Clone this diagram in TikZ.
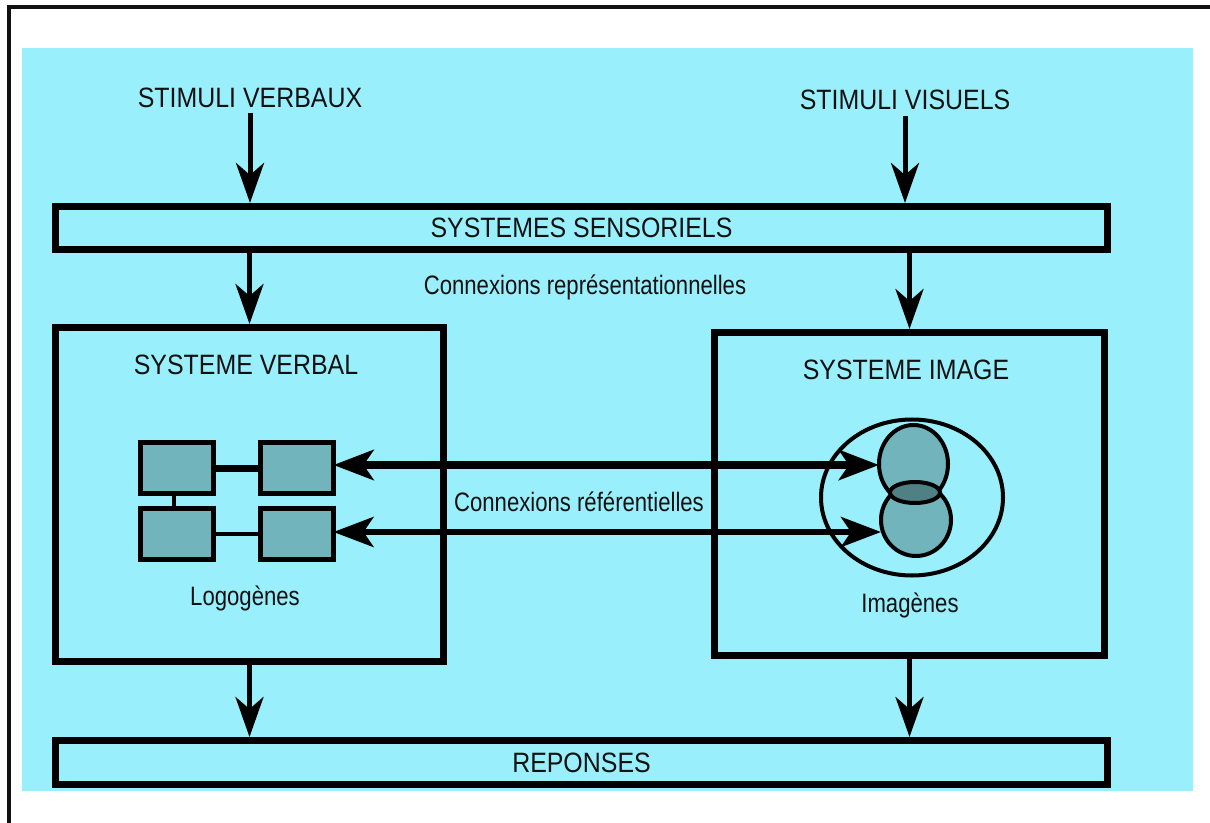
\documentclass[tikz,border=0pt]{standalone}
\usepackage{fontspec}
\setmainfont{Liberation Sans}
\newfontfamily\capsfont[FakeStretch=0.89]{Liberation Sans}
\newfontfamily\smallfont[FakeStretch=0.83]{Liberation Sans}
\usetikzlibrary{arrows.meta,shapes.geometric}
\definecolor{panel}{HTML}{99F0FC}
\definecolor{cellfill}{HTML}{72B4BC}
\definecolor{overlapfill}{HTML}{4F8084}
\definecolor{ink}{HTML}{111111}

\begin{document}
\begin{tikzpicture}[x=0.75pt,y=-0.75pt,
  caps/.style={font=\capsfont\fontsize{21}{25}\selectfont, text=ink, inner sep=0pt},
  small/.style={font=\smallfont\fontsize{20}{24}\selectfont, text=ink, inner sep=0pt},
  sysbox/.style={draw=black, line width=5.25pt, fill=panel, inner sep=0pt, outer sep=2.625pt},
  cell/.style={draw=black, line width=3.75pt, fill=cellfill, inner sep=0pt, outer sep=0pt,
    minimum width=54.75pt, minimum height=38.25pt},
  blob/.style={ellipse, draw=black, line width=3pt, inner sep=0pt, outer sep=0pt},
  flow/.style={line width=3.75pt, -{Stealth[length=30pt,width=21pt,inset=9pt]}},
  refarrow/.style={{Stealth[length=30pt,width=22.5pt,inset=7.5pt]}-{Stealth[length=30pt,width=22.5pt,inset=7.5pt]}},
]
\useasboundingbox (0,0) rectangle (1210,823);
\fill[white] (0,0) rectangle (1210,823);

% frame and panel
\draw[ink, line width=3pt] (9,823) -- (9,7.5) -- (1210,7.5);
\fill[panel] (22,48) rectangle (1193,791);

% stimuli
\node[caps, anchor=base] (stv) at (250,108) {STIMULI VERBAUX};
\node[caps, anchor=base] (svis) at (905,110) {STIMULI VISUELS};

% main boxes
\node[sysbox, caps, minimum width=789pt, minimum height=32.25pt] (sens) at (581.5,228) {SYSTEMES SENSORIELS};
\node[sysbox, minimum width=291pt, minimum height=250.5pt] (vb) at (249.5,494.5) {};
\node[sysbox, minimum width=292.5pt, minimum height=242.25pt] (im) at (909.5,494) {};
\node[sysbox, caps, minimum width=789pt, minimum height=33pt] (rep) at (581.5,762.5) {REPONSES};

\node[small, anchor=base] (crep) at (585,295) {Connexions représentationnelles};
\node[caps, anchor=base] (tvb) at (246,375) {SYSTEME VERBAL};
\node[caps, anchor=base] (tim) at (906,380) {SYSTEME IMAGE};
\node[small, anchor=base] (cref) at (579,511) {Connexions référentielles};

% logogens
\node[cell] (l1) at (177,468) {};
\node[cell] (l2) at (297,468) {};
\node[cell] (l3) at (177,533.5) {};
\node[cell] (l4) at (297,533.5) {};
\draw[line width=5.25pt] (l1.east) -- (l2.west);
\draw[line width=3pt] (l3.east) -- (l4.west);
\draw[line width=3pt] ([xshift=-2.25pt]l1.south) -- ([xshift=-2.25pt]l3.north);
\node[small, anchor=base] (tlog) at (245,605) {Logogènes};

% imagens
\node[blob, minimum width=136.5pt, minimum height=117pt] (ring) at (912,497.5) {};
\node[blob, fill=cellfill, minimum width=51.75pt, minimum height=58.5pt] (c1) at (913.5,464) {};
\node[blob, fill=cellfill, minimum width=52.5pt, minimum height=54pt] (c2) at (916,520) {};
\node[blob, fill=overlapfill, minimum width=37.5pt, minimum height=15.75pt] (lens) at (915,492.5) {};
\node[small, anchor=base] (timg) at (910,612) {Imagènes};

% flows
\draw[flow] ([yshift=-3pt]stv.south) -- (sens.north -| stv.south);
\draw[flow] ([yshift=-3.75pt]svis.south) -- (sens.north -| svis.south);
\draw[flow] (sens.south -| vb.north) -- (vb.north);
\draw[flow] (sens.south -| im.north) -- (im.north);
\draw[flow] (vb.south) -- (vb.south |- rep.north);
\draw[flow] (im.south) -- (im.south |- rep.north);

% referential connections
\coordinate (ya) at (600,465);
\coordinate (yb) at (600,532);
\draw[refarrow, line width=6pt] (l2.east |- ya) -- (c1.west |- ya);
\draw[refarrow, line width=4.5pt] (l4.east |- yb) -- (c2.west |- yb);
\end{tikzpicture}
\end{document}
